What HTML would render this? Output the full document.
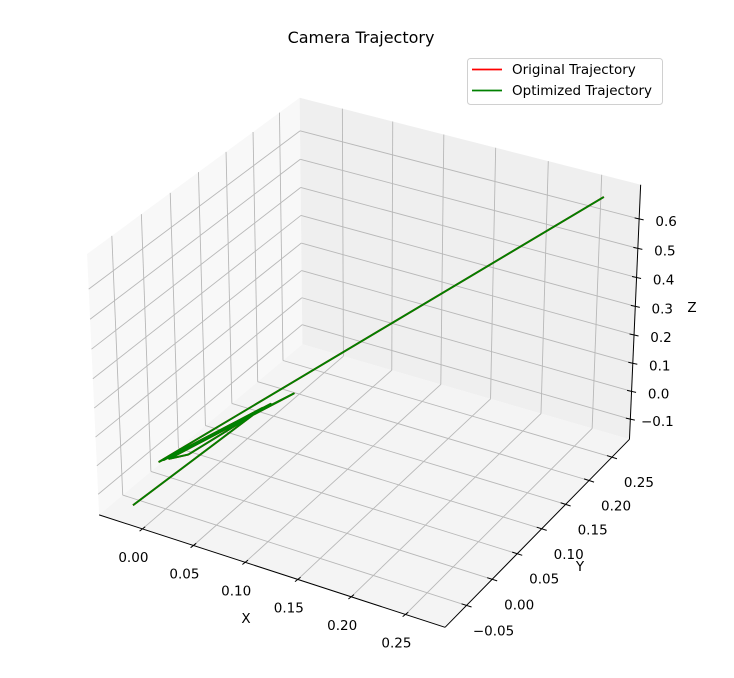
<!DOCTYPE html>
<html><head><meta charset="utf-8"><style>
html,body{margin:0;padding:0;background:#fff}
svg{display:block}
text{font-family:"DejaVu Sans","Liberation Sans",sans-serif;fill:#000}
</style></head><body>
<svg id="chart" width="734" height="678" viewBox="0 0 734 678" xmlns="http://www.w3.org/2000/svg">
<rect width="734" height="678" fill="#fff"/>
<text x="361" y="43" font-size="16" text-anchor="middle">Camera Trajectory</text>
<g id="panes"></g>
<g id="grid"></g>
<g id="series"></g>
<g id="axes"></g>
<text x="246" y="623" font-size="13.5" text-anchor="middle">X</text>
<text x="580" y="571" font-size="13.5" text-anchor="middle">Y</text>
<text x="692" y="312" font-size="13.5" text-anchor="middle">Z</text>
<g>
<rect x="467.5" y="58.5" width="195" height="46" rx="3" fill="#fff" fill-opacity="0.8" stroke="#d0d0d0"/>
<line x1="472" y1="69.5" x2="502" y2="69.5" stroke="#ff0000" stroke-width="1.8"/>
<text x="512" y="74" font-size="13.5">Original Trajectory</text>
<line x1="472" y1="90.5" x2="502" y2="90.5" stroke="#008000" stroke-width="1.8"/>
<text x="512" y="95" font-size="13.5">Optimized Trajectory</text>
</g>
</svg>
<script>
// ---- data ----
const xTicks = [0.00, 0.05, 0.10, 0.15, 0.20, 0.25];
const yTicks = [-0.05, 0.00, 0.05, 0.10, 0.15, 0.20, 0.25];
const zTicks = [-0.1, 0.0, 0.1, 0.2, 0.3, 0.4, 0.5, 0.6];
const xTickLabels = ["0.00","0.05","0.10","0.15","0.20","0.25"];
const yTickLabels = ["\u22120.05","0.00","0.05","0.10","0.15","0.20","0.25"];
const zTickLabels = ["\u22120.1","0.0","0.1","0.2","0.3","0.4","0.5","0.6"];
const xLim = [-0.043, 0.286];
const yLim = [-0.091, 0.289];
const zLim = [-0.173, 0.715];
const origX = [-0.021, 0.045, -0.026, 0.069, -0.021, -0.001, 0.051, -0.030, 0.259];
const origY = [-0.070, 0.046, -0.006, 0.059, -0.005, -0.006, 0.050, -0.007, 0.274];
const origZ = [-0.150, 0.074, -0.103, 0.129, -0.095, -0.056, 0.088, -0.112, 0.670];
const optX = [-0.021, 0.045, -0.026, 0.069, -0.021, -0.001, 0.051, -0.030, 0.259];
const optY = [-0.070, 0.046, -0.006, 0.059, -0.005, -0.006, 0.050, -0.007, 0.274];
const optZ = [-0.150, 0.074, -0.103, 0.129, -0.095, -0.056, 0.088, -0.112, 0.670];

// ---- projection (matplotlib-like, elev=30, azim=-60, persp) ----
const NS = 'http://www.w3.org/2000/svg';
const asp = [4,4,3].map(v => v * 1.8294640721620434 / Math.sqrt(41));
const el = 30*Math.PI/180, az = -60*Math.PI/180;
const w = [Math.cos(el)*Math.cos(az), Math.cos(el)*Math.sin(az), Math.sin(el)];
const eye = [0.5*asp[0] + 10*w[0], 0.5*asp[1] + 10*w[1], 0.5*asp[2] + 10*w[2]];
let u = [-w[1], w[0], 0]; const un = Math.hypot(u[0],u[1]); u = u.map(v=>v/un);
const v = [w[1]*u[2]-w[2]*u[1], w[2]*u[0]-w[0]*u[2], w[0]*u[1]-w[1]*u[0]];
function proj0(x,y,z){
  const p = [(x-xLim[0])/(xLim[1]-xLim[0])*asp[0], (y-yLim[0])/(yLim[1]-yLim[0])*asp[1], (z-zLim[0])/(zLim[1]-zLim[0])*asp[2]];
  const d = [p[0]-eye[0], p[1]-eye[1], p[2]-eye[2]];
  const cz = d[0]*w[0]+d[1]*w[1]+d[2]*w[2];
  return [(d[0]*u[0]+d[1]*u[1]+d[2]*u[2])/(-cz), (d[0]*v[0]+d[1]*v[1]+d[2]*v[2])/(-cz)];
}
const X0=xLim[0],X1=xLim[1],Y0=yLim[0],Y1=yLim[1],Z0=zLim[0],Z1=zLim[1];
const refs = [[X0,Y0,Z0,99,515],[X1,Y0,Z0,445,627],[X1,Y1,Z0,629,440],[X1,Y1,Z1,641,185],[X0,Y1,Z1,300,98],[X0,Y0,Z1,87,253]];
function fit(idx, col){
  let n=refs.length,sx=0,sy=0,sxx=0,sxy=0;
  refs.forEach(r=>{const p=proj0(r[0],r[1],r[2])[idx]; sx+=p; sy+=r[col]; sxx+=p*p; sxy+=p*r[col];});
  const a=(n*sxy-sx*sy)/(n*sxx-sx*sx); return [a,(sy-a*sx)/n];
}
const fx = fit(0,3), fy = fit(1,4);
function P(x,y,z){const p=proj0(x,y,z); return [fx[0]*p[0]+fx[1], fy[0]*p[1]+fy[1]];}

function line(g,a,b,stroke,sw,name){
  const l=document.createElementNS(NS,'line');
  l.setAttribute('x1',a[0]);l.setAttribute('y1',a[1]);l.setAttribute('x2',b[0]);l.setAttribute('y2',b[1]);
  l.setAttribute('stroke',stroke);l.setAttribute('stroke-width',sw);
  
  
  g.appendChild(l); return l;
}
function poly(g,pts,fill,name){
  const p=document.createElementNS(NS,'polygon');
  p.setAttribute('points',pts.map(q=>q.join(',')).join(' '));
  p.setAttribute('fill',fill);
  
  
  g.appendChild(p);
}
function label(g,pos,txt,name){
  const t=document.createElementNS(NS,'text');
  t.setAttribute('x',pos[0]);t.setAttribute('y',pos[1]+5);
  t.setAttribute('font-size','13.5');t.setAttribute('text-anchor','middle');
  t.textContent=txt;
  
  
  g.appendChild(t);
}
const panes=document.getElementById('panes'), grid=document.getElementById('grid');
poly(panes,[P(X0,Y0,Z0),P(X0,Y1,Z0),P(X0,Y1,Z1),P(X0,Y0,Z1)],'#f8f8f8','pane-x-left');
poly(panes,[P(X0,Y1,Z0),P(X1,Y1,Z0),P(X1,Y1,Z1),P(X0,Y1,Z1)],'#efefef','pane-y-back');
poly(panes,[P(X0,Y0,Z0),P(X1,Y0,Z0),P(X1,Y1,Z0),P(X0,Y1,Z0)],'#f4f4f4','pane-z-floor');
const gc='#b8b8b8', gw=0.9;
xTicks.forEach(t=>{line(grid,P(t,Y0,Z0),P(t,Y1,Z0),gc,gw,'grid-x-floor');line(grid,P(t,Y1,Z0),P(t,Y1,Z1),gc,gw,'grid-x-back');});
yTicks.forEach(t=>{line(grid,P(X0,t,Z0),P(X1,t,Z0),gc,gw,'grid-y-floor');line(grid,P(X0,t,Z0),P(X0,t,Z1),gc,gw,'grid-y-left');});
zTicks.forEach(t=>{line(grid,P(X0,Y0,t),P(X0,Y1,t),gc,gw,'grid-z-left');line(grid,P(X0,Y1,t),P(X1,Y1,t),gc,gw,'grid-z-back');});

const series=document.getElementById('series');
function drawSeries(xs,ys,zs,color,name){
  const pl=document.createElementNS(NS,'polyline');
  pl.setAttribute('points',xs.map((x,i)=>P(x,ys[i],zs[i]).join(',')).join(' '));
  pl.setAttribute('fill','none');pl.setAttribute('stroke',color);pl.setAttribute('stroke-width','1.9');
  pl.setAttribute('stroke-linejoin','round');
  
  
  series.appendChild(pl);
}
drawSeries(origX,origY,origZ,'#ff0000','original-trajectory-line');
drawSeries(optX,optY,optZ,'#008000','optimized-trajectory-line');

const axes=document.getElementById('axes');
line(axes,P(X0,Y0,Z0),P(X1,Y0,Z0),'#000',1,'x-axis-line');
line(axes,P(X1,Y0,Z0),P(X1,Y1,Z0),'#000',1,'y-axis-line');
line(axes,P(X1,Y1,Z0),P(X1,Y1,Z1),'#000',1,'z-axis-line');
xTicks.forEach((t,i)=>{const p=P(t,Y0,Z0);line(axes,[p[0]-2.8,p[1]+2.2],[p[0]+2.8,p[1]-2.2],'#000',1,'x-tick');label(axes,[p[0]-9,p[1]+28],xTickLabels[i],'x-tick-label');});
yTicks.forEach((t,i)=>{const p=P(X1,t,Z0);line(axes,[p[0]-5,p[1]-1.6],[p[0]+5,p[1]+1.6],'#000',1,'y-tick');label(axes,[p[0]+27,p[1]+25],yTickLabels[i],'y-tick-label');});
zTicks.forEach((t,i)=>{const p=P(X1,Y1,t);line(axes,[p[0]-4.5,p[1]-1],[p[0]+4.5,p[1]+1],'#000',1,'z-tick');label(axes,[p[0]+27,p[1]+2],zTickLabels[i],'z-tick-label');});
</script>
</body></html>
